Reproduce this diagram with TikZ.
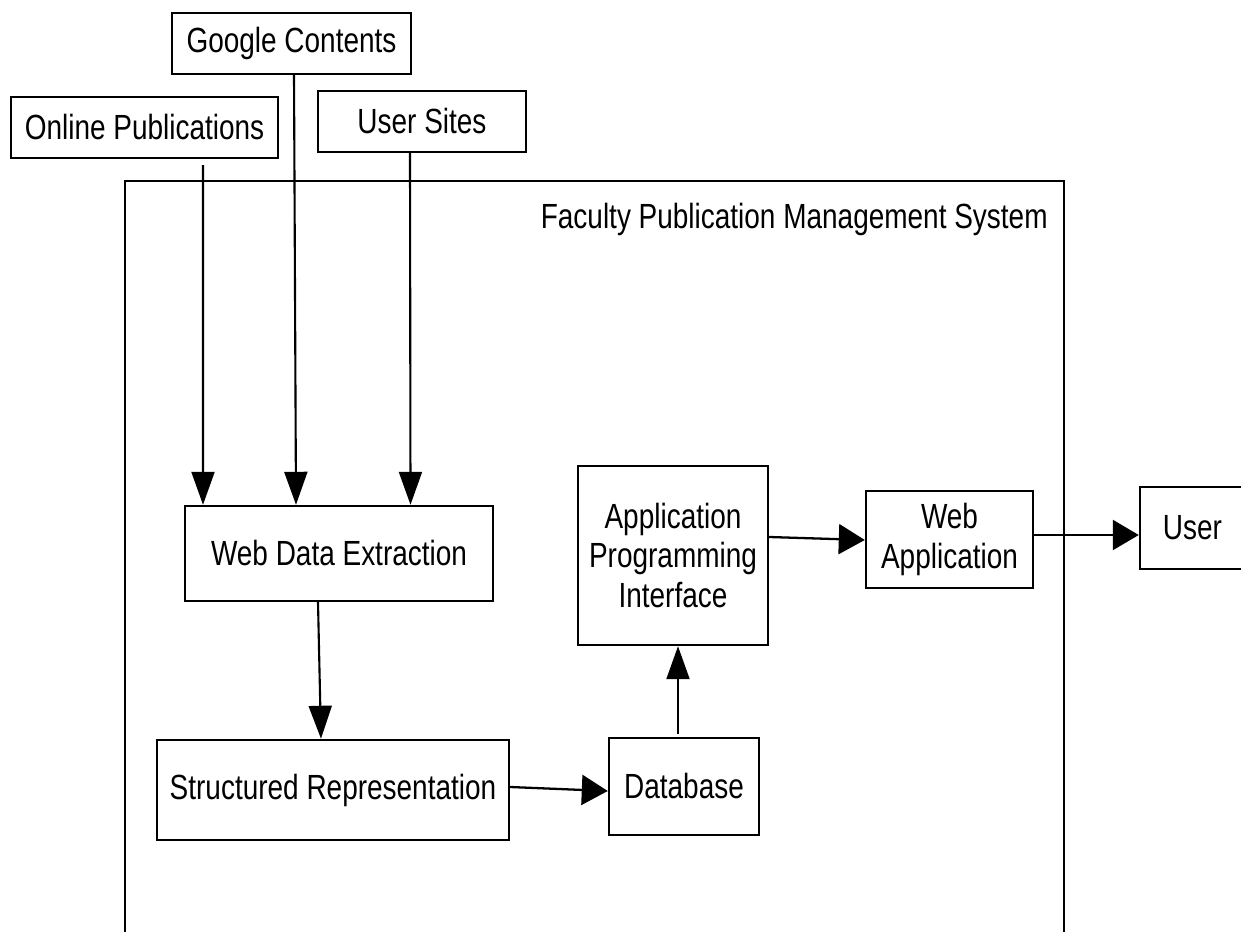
\documentclass[tikz,border=0pt]{standalone}
\usepackage{fontspec}
\setmainfont{Liberation Sans}[FakeStretch=0.8]
\usetikzlibrary{arrows.meta,calc}

\begin{document}
\begin{tikzpicture}[x=0.02cm,y=-0.02cm,
		unit/.style={draw,line width=1.4pt,inner sep=0pt,align=center,font=\fontsize{19.9}{22.5}\selectfont},
		feed/.style={line width=1.2pt,-{Triangle[width=0.46cm,length=0.66cm]}},
		feedh/.style={line width=1.3pt,-{Triangle[width=0.6cm,length=0.52cm]}}]
	\useasboundingbox (0,0) rectangle (1241,932);
	\clip (0,0) rectangle (1241,932);
	
	% system frame, open at the bottom
	\draw[line width=1.4pt] (125,945) -- (125,181) -- (1064,181) -- (1064,945);
	\node[anchor=base east,inner sep=0pt,font=\fontsize{19.9}{22.5}\selectfont] (title) at (1048,228.5) {Faculty Publication Management System};
	
	% sources
	\node[unit,minimum width=4.78cm,minimum height=1.22cm] (gc) at (291.5,43.5) {Google Contents};
	\node[unit,minimum width=5.34cm,minimum height=1.22cm] (op) at (144.5,127.5) {Online Publications};
	\node[unit,minimum width=4.16cm,minimum height=1.22cm] (us) at (422,121.5) {User Sites};
	
	\node[unit,minimum width=6.16cm,minimum height=1.9cm] (wde) at (339,553.5) {Web Data Extraction};
	\node[unit,minimum width=7.04cm,minimum height=2cm] (sr) at (333,790) {Structured Representation};
	\node[unit,minimum width=3cm,minimum height=1.94cm] (db) at (684,786.5) {Database};
	\node[unit,minimum width=3.8cm,minimum height=3.58cm] (api) at (673,555.5) {Application\\Programming\\Interface};
	\node[unit,minimum width=3.34cm,minimum height=1.94cm] (wa) at (949.5,539.5) {Web\\Application};
	\node[unit,minimum width=2.1cm,minimum height=1.64cm] (usr) at (1192.5,528) {User};
	
	\foreach \s/\a/\d/\b in {op/58.5/6/-136,gc/2.5/0/-43,us/-12/0/71.5}
	\draw[feed] ($(\s.south)+(\a,\d)$) -- ($(wde.north)+(\b,0)$);
	
	\draw[feed] ($(wde.south)+(-21,0)$) -- ($(sr.north)+(-12,0)$);
	\draw[feedh] ($(sr.east)+(0,-3)$) -- ($(db.west)+(0,4.5)$);
	\draw[feed] ($(db.north)+(-6,-3)$) -- ($(api.south)+(5,0)$);
	\draw[feedh] ($(api.east)+(0,-18.5)$) -- ($(wa.west)+(0,0.5)$);
	\draw[feedh] ($(wa.east)+(0,-4.5)$) -- ($(usr.west)+(0,7)$);
\end{tikzpicture}
\end{document}
